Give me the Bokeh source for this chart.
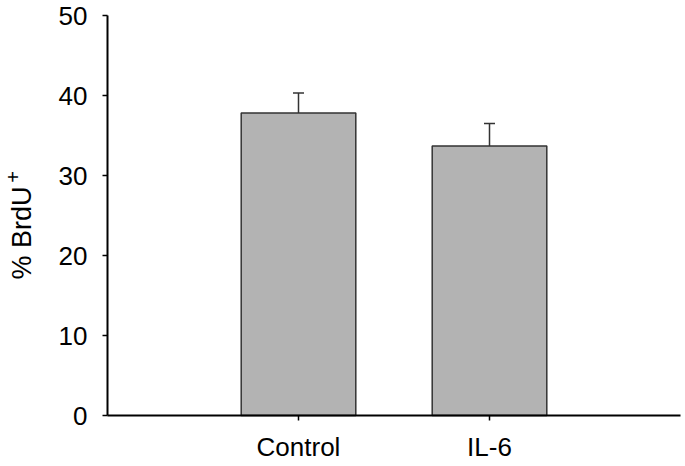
import math
from bokeh.plotting import figure
from bokeh.models import (ColumnDataSource, Range1d, Whisker, TeeHead, Label,
                          FixedTicker)
from bokeh.embed import file_html
from bokeh.resources import INLINE

categories = ["Control", "IL-6"]
values = [37.8, 33.7]
errors = [2.5, 2.8]
y_ticks = [0, 10, 20, 30, 40, 50]
y_label = "% BrdU"
y_label_sup = "+"

positions = [i + 1 for i in range(len(categories))]
upper = [v + e for v, e in zip(values, errors)]
src = ColumnDataSource(data=dict(x=positions, val=values, up=upper))

FONT = "Liberation Sans"
W, H = 685, 466
X0, PXU_X = 107, 191.0     # screen x of data x=0, pixels per unit
Y0, PXU_Y = 415, 8.0       # screen y of data y=0, pixels per unit

p = figure(
    width=W, height=H,
    x_range=Range1d(-X0 / PXU_X, (W - X0) / PXU_X),
    y_range=Range1d(-(H - Y0) / PXU_Y, Y0 / PXU_Y),
    output_backend="svg", toolbar_location=None,
    min_border_left=0, min_border_right=0, min_border_top=0, min_border_bottom=0,
)
p.outline_line_color = None
p.xgrid.grid_line_color = None
p.ygrid.grid_line_color = None

p.vbar(x="x", top="val", width=0.6, source=src,
       fill_color="#b3b3b3", line_color="#333333", line_width=1.5)

w = Whisker(source=src, base="x", lower="val", upper="up",
            line_color="#333333", line_width=1.5,
            upper_head=TeeHead(size=11, line_color="#333333", line_width=1.5),
            lower_head=None)
p.add_layout(w)

for ax in (p.xaxis[0], p.yaxis[0]):
    ax.axis_line_color = "black"
    ax.axis_line_width = 2
    ax.major_tick_line_color = "black"
    ax.major_tick_line_width = 1.5
    ax.major_tick_out = 5
    ax.major_tick_in = 0
    ax.minor_tick_line_color = None
    ax.major_label_text_font = FONT
    ax.major_label_text_font_size = "26px"
    ax.major_label_text_color = "black"
    ax.fixed_location = 0

p.yaxis.ticker = FixedTicker(ticks=y_ticks)
p.yaxis.bounds = (y_ticks[0], y_ticks[-1])
p.yaxis.major_label_standoff = 15

p.xaxis.ticker = FixedTicker(ticks=positions)
p.xaxis.major_label_overrides = {pos: c for pos, c in zip(positions, categories)}
p.xaxis.bounds = (0, len(categories) + 1)
p.xaxis.major_label_standoff = 11

p.add_layout(Label(x=21, y=H - 232.5, x_units="screen", y_units="screen",
                   text=y_label, angle=math.pi / 2,
                   text_font=FONT, text_font_size="27px", text_color="black",
                   text_align="center", text_baseline="alphabetic"))
p.add_layout(Label(x=12, y=H - 176.5, x_units="screen", y_units="screen",
                   text=y_label_sup, angle=math.pi / 2,
                   text_font=FONT, text_font_size="20px", text_color="black",
                   text_align="center", text_baseline="middle"))

open("out.html", "w").write(file_html(p, INLINE))
